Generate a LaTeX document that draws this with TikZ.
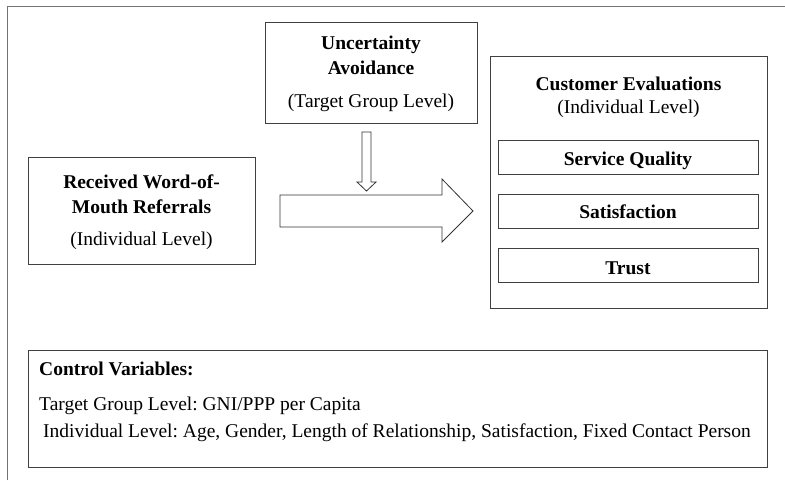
\documentclass[tikz,border=0pt]{standalone}
\usepackage{fontspec}
\setmainfont{Liberation Serif}
\frenchspacing
\begin{document}
\begin{tikzpicture}[x=1pt,y=-1pt,
  box/.style={draw=black!75,line width=0.9pt},
  frame/.style={draw=black!55,line width=1pt},
  txt/.style={font=\fontsize{19.5}{22}\selectfont,anchor=base,inner sep=0pt},
  head/.style={txt,font=\fontsize{19.5}{22}\selectfont\bfseries},
  lefttxt/.style={txt,anchor=base west},
  blockarrow/.style={draw=black!80,line width=0.8pt,fill=white}]
\useasboundingbox (0,0) rectangle (785,480);
% outer frame (open at right and bottom)
\draw[frame] (7,480) -- (7,6) -- (785,6);

% boxes
\node[box,minimum width=212pt,minimum height=101pt,inner sep=0pt] (ua) at (371,72.5) {};
\node[box,minimum width=227pt,minimum height=107pt,inner sep=0pt] (wom) at (141.5,210.5) {};
\node[box,minimum width=277pt,minimum height=252pt,inner sep=0pt] (ce) at (628.5,182) {};
\node[box,minimum width=260pt,minimum height=34pt,inner sep=0pt] (sq) at (628,157) {};
\node[box,minimum width=260pt,minimum height=34pt,inner sep=0pt] (sat) at (628,211.5) {};
\node[box,minimum width=260pt,minimum height=34pt,inner sep=0pt] (tr) at (628,265.5) {};
\node[box,minimum width=739pt,minimum height=117pt,inner sep=0pt] (cv) at (397.5,408.5) {};

% texts
\node[head] at (371,49) {Uncertainty};
\node[head] at (371,74) {Avoidance};
\node[txt] at (371,107) {(Target Group Level)};
\node[head] at (141.5,188) {Received Word-of-};
\node[head] at (141.5,213) {Mouth Referrals};
\node[txt] at (141.5,245) {(Individual Level)};
\node[head] at (628.5,90) {Customer Evaluations};
\node[txt] at (628.5,113) {(Individual Level)};
\node[head] at (sq.center |- 0,165) {Service Quality};
\node[head] at (sat.center |- 0,218) {Satisfaction};
\node[head] at (tr.center |- 0,274) {Trust};
\node[head,anchor=base west] at (39,375) {Control Variables:};
\node[lefttxt] at (39,410) {Target Group Level: GNI/PPP per Capita};
\node[lefttxt] at (43,437) {Individual Level: Age, Gender, Length of Relationship, Satisfaction, Fixed Contact Person};

% moderating arrow from the top box
\draw[blockarrow] (362,132) -- (371,132) -- (371,182) -- (376,182) -- (366.5,191)
  -- (357,182) -- (362,182) -- cycle;
% main effect arrow
\draw[blockarrow] (280,195) -- (442,195) -- (442,179) -- (473,211) -- (442,242)
  -- (442,227) -- (280,227) -- cycle;
\end{tikzpicture}
\end{document}
